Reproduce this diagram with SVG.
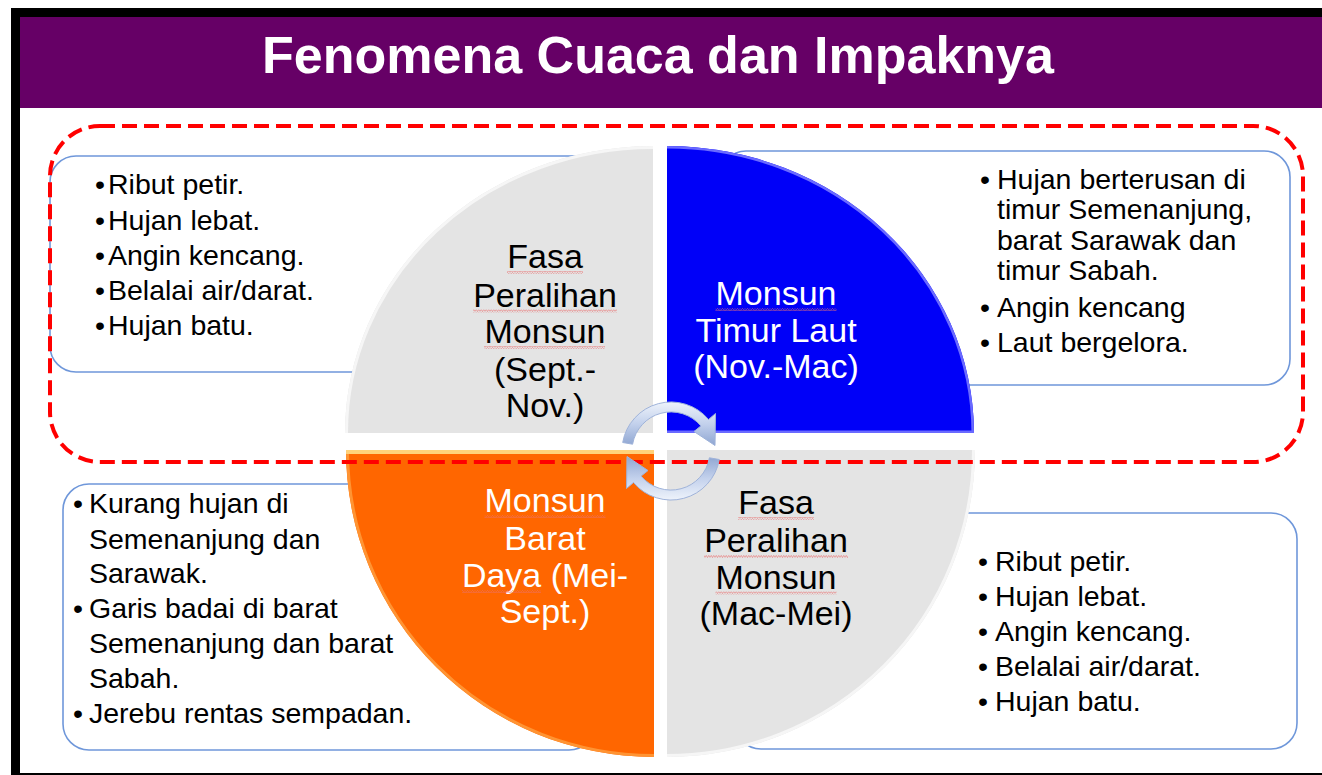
<svg xmlns="http://www.w3.org/2000/svg" width="1322" height="775" viewBox="0 0 1322 775">
<style>
.box{fill:#ffffff;stroke:#6f97da;stroke-width:1.6}
.bt{font-family:"Liberation Sans",Arial,sans-serif;font-size:28.5px;fill:#000}
.qt{font-family:"Liberation Sans",Arial,sans-serif;font-size:34px;text-anchor:middle}
.dk{fill:#000}
.wt{fill:#fff}
.sq{fill:url(#squig)}
</style>
<defs>
<pattern id="squig" x="0" y="0" width="5" height="3" patternUnits="userSpaceOnUse">
<path d="M0,2.6 L1.25,0.4 L2.5,2.6 L3.75,0.4 L5,2.6" fill="none" stroke="#e87070" stroke-width="0.6"/>
</pattern>
<linearGradient id="arrowGrad" x1="0" y1="0" x2="0" y2="1">
<stop offset="0" stop-color="#eef3fb"/>
<stop offset="0.5" stop-color="#c3d1ec"/>
<stop offset="1" stop-color="#8fa6d2"/>
</linearGradient>
<clipPath id="cTL"><path d="M653,433 L345,433 A308,287 0 0 1 653,146 Z"/></clipPath>
<clipPath id="cTR"><path d="M667,433 L667,146 A307,288 0 0 1 974,433 Z"/></clipPath>
<clipPath id="cBL"><path d="M654,450 L654,757 A308,307 0 0 1 346,450 Z"/></clipPath>
<clipPath id="cBR"><path d="M667,450 L975,450 A308,307 0 0 1 667,757 Z"/></clipPath>
</defs>

<!-- frame -->
<rect x="0" y="0" width="1322" height="775" fill="#ffffff"/>
<rect x="11" y="8" width="1311" height="767" fill="#000000"/>
<rect x="20" y="17" width="1302" height="756" fill="#ffffff"/>
<g id="header">
<rect x="20" y="17" width="1302" height="91" fill="#660066"/>
<text x="658" y="73" text-anchor="middle" font-family="'Liberation Sans',Arial,sans-serif" font-size="52" font-weight="bold" fill="#ffffff">Fenomena Cuaca dan Impaknya</text>
</g>

<!-- text boxes -->
<g id="box-top-left">
<rect class="box" x="50" y="156" width="560" height="216" rx="26"/>
<text class="bt" x="95" y="194">•</text><text class="bt" x="108" y="194">Ribut petir.</text>
<text class="bt" x="95" y="229.5">•</text><text class="bt" x="108" y="229.5">Hujan lebat.</text>
<text class="bt" x="95" y="264.5">•</text><text class="bt" x="108" y="264.5">Angin kencang.</text>
<text class="bt" x="95" y="300">•</text><text class="bt" x="108" y="300">Belalai air/darat.</text>
<text class="bt" x="95" y="335">•</text><text class="bt" x="108" y="335">Hujan batu.</text>
</g>
<g id="box-top-right">
<rect class="box" x="720" y="151" width="570" height="234" rx="26"/>
<text class="bt" x="980" y="189">•</text><text class="bt" x="997" y="189">Hujan berterusan di</text>
<text class="bt" x="997" y="219">timur Semenanjung,</text>
<text class="bt" x="997" y="250">barat Sarawak dan</text>
<text class="bt" x="997" y="280">timur Sabah.</text>
<text class="bt" x="980" y="317">•</text><text class="bt" x="997" y="317">Angin kencang</text>
<text class="bt" x="980" y="352">•</text><text class="bt" x="997" y="352">Laut bergelora.</text>
</g>
<g id="box-bottom-left">
<rect class="box" x="63" y="484" width="532" height="266" rx="26"/>
<text class="bt" x="73" y="513">•</text><text class="bt" x="89" y="513">Kurang hujan di</text>
<text class="bt" x="89" y="548.5">Semenanjung dan</text>
<text class="bt" x="89" y="583">Sarawak.</text>
<text class="bt" x="73" y="618">•</text><text class="bt" x="89" y="618">Garis badai di barat</text>
<text class="bt" x="89" y="653">Semenanjung dan barat</text>
<text class="bt" x="89" y="688">Sabah.</text>
<text class="bt" x="73" y="723">•</text><text class="bt" x="89" y="723">Jerebu rentas sempadan.</text>
</g>
<g id="box-bottom-right">
<rect class="box" x="735" y="513" width="562" height="236" rx="26"/>
<text class="bt" x="978" y="570.5">•</text><text class="bt" x="995" y="570.5">Ribut petir.</text>
<text class="bt" x="978" y="606">•</text><text class="bt" x="995" y="606">Hujan lebat.</text>
<text class="bt" x="978" y="641">•</text><text class="bt" x="995" y="641">Angin kencang.</text>
<text class="bt" x="978" y="676">•</text><text class="bt" x="995" y="676">Belalai air/darat.</text>
<text class="bt" x="978" y="711">•</text><text class="bt" x="995" y="711">Hujan batu.</text>
</g>

<!-- quadrants -->
<g id="q-top-left">
<path d="M653,433 L345,433 A308,287 0 0 1 653,146 Z" fill="#e4e4e4"/>
<path d="M345,433 A308,287 0 0 1 653,146" fill="none" stroke="#f6f6f6" stroke-width="6" clip-path="url(#cTL)"/>
<text class="qt dk" x="545" y="268">Fasa</text>
<text class="qt dk" x="545" y="306.5">Peralihan</text>
<text class="qt dk" x="545" y="343">Monsun</text>
<text class="qt dk" x="545" y="381">(Sept.-</text>
<text class="qt dk" x="545" y="417">Nov.)</text>
<rect class="sq" x="507" y="271" width="76" height="3"/>
<rect class="sq" x="473" y="309.5" width="144" height="3"/>
<rect class="sq" x="484" y="346" width="121" height="3"/>
</g>
<g id="q-top-right">
<path d="M667,433 L667,146 A307,288 0 0 1 974,433 Z" fill="#0000f8"/>
<path d="M667,146 A307,288 0 0 1 974,433 L667,433" fill="none" stroke="#6a6aff" stroke-width="5" clip-path="url(#cTR)"/>
<text class="qt wt" x="776" y="305">Monsun</text>
<text class="qt wt" x="776" y="341.5">Timur Laut</text>
<text class="qt wt" x="776" y="378">(Nov.-Mac)</text>
<rect class="sq" x="715.5" y="308" width="121" height="3"/>
</g>
<g id="q-bottom-left">
<path d="M654,450 L654,757 A308,307 0 0 1 346,450 Z" fill="#ff6600"/>
<path d="M654,757 A308,307 0 0 1 346,450" fill="none" stroke="#ff9433" stroke-width="6" clip-path="url(#cBL)"/>
<rect x="346" y="450" width="308" height="4" fill="#ffd27a" clip-path="url(#cBL)"/>
<text class="qt wt" x="545" y="512">Monsun</text>
<text class="qt wt" x="545" y="550">Barat</text>
<text class="qt wt" x="545" y="587">Daya (Mei-</text>
<text class="qt wt" x="545" y="623">Sept.)</text>
<rect class="sq" x="484.5" y="515" width="121" height="3"/>
<rect class="sq" x="462" y="590" width="79" height="3"/>
</g>
<g id="q-bottom-right">
<path d="M667,450 L975,450 A308,307 0 0 1 667,757 Z" fill="#e4e4e4"/>
<path d="M975,450 A308,307 0 0 1 667,757" fill="none" stroke="#f6f6f6" stroke-width="6" clip-path="url(#cBR)"/>
<text class="qt dk" x="776" y="514">Fasa</text>
<text class="qt dk" x="776" y="552">Peralihan</text>
<text class="qt dk" x="776" y="588.5">Monsun</text>
<text class="qt dk" x="776" y="625">(Mac-Mei)</text>
<rect class="sq" x="738" y="517" width="76" height="3"/>
<rect class="sq" x="704" y="555" width="144" height="3"/>
<rect class="sq" x="715.5" y="591.5" width="121" height="3"/>
</g>

<!-- red dashed highlight -->
<g id="highlight">
<rect x="50" y="126" width="1253" height="336" rx="50" fill="none" stroke="#ff0000" stroke-width="4" stroke-dasharray="15 7"/>
</g>

<!-- cycle arrows -->
<g id="connectors">
<path d="M622.7,442.5 A49,49 0 0 1 708.5,419.5 L715.5,413.5 L715,445.5 L694,431.5 L700.9,425.9 A39,39 0 0 0 632.6,444.2 Z" fill="url(#arrowGrad)" stroke="#9fb3da" stroke-width="1"/>
<path d="M622.7,442.5 A49,49 0 0 1 708.5,419.5 L715.5,413.5 L715,445.5 L694,431.5 L700.9,425.9 A39,39 0 0 0 632.6,444.2 Z" fill="url(#arrowGrad)" stroke="#9fb3da" stroke-width="1" transform="rotate(180 671 451)"/>
</g>
</svg>
